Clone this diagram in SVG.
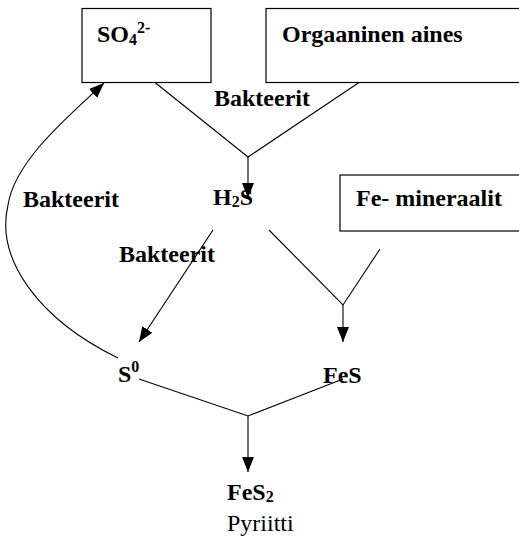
<svg xmlns="http://www.w3.org/2000/svg" width="519" height="536" viewBox="0 0 519 536">
<style>
.box{fill:#fff;stroke:#000;stroke-width:1.2}
.ln{fill:none;stroke:#000;stroke-width:1.1}
.t{font-family:"Liberation Serif","Times New Roman",serif;font-size:24px;font-weight:bold;fill:#000}
.n{font-family:"Liberation Serif","Times New Roman",serif;font-size:24px;fill:#000}
.s{font-size:16px}
</style>
<defs>
<marker id="ah" markerUnits="userSpaceOnUse" markerWidth="16" markerHeight="13" refX="15" refY="6" orient="auto">
<path d="M0,0 L15,6 L0,12 z" fill="#000"/>
</marker>
</defs>
<g id="connectors">
<path class="ln" d="M155,82.5 L248,157 L359,82.5"/>
<path class="ln" d="M248,157 L248,198" marker-end="url(#ah)"/>
<path class="ln" d="M213,230 L139,342" marker-end="url(#ah)"/>
<path class="ln" d="M269,230 L343,305 L380,249"/>
<path class="ln" d="M343,305 L343,342" marker-end="url(#ah)"/>
<path class="ln" d="M139,379 L248,416 L343,379"/>
<path class="ln" d="M248,416 L248,472" marker-end="url(#ah)"/>
<path class="ln" d="M118,358 C40,320 -5,260 8,205 C15,160 70,115 104,83" marker-end="url(#ah)"/>
</g>
<g id="so4">
<rect class="box" x="82" y="8.5" width="129" height="74"/>
<text class="t" x="97" y="42">SO<tspan class="s" dy="3">4</tspan><tspan class="s" dy="-12">2-</tspan></text>
</g>
<g id="orgaaninen">
<rect class="box" x="266" y="8.5" width="260" height="74"/>
<text class="t" x="282" y="42">Orgaaninen aines</text>
</g>
<g id="fe-mineraalit">
<rect class="box" x="340" y="175" width="190" height="56"/>
<text class="t" x="356" y="206">Fe- mineraalit</text>
</g>
<g id="labels">
<text class="t" x="214" y="106">Bakteerit</text>
<text class="t" x="23" y="207">Bakteerit</text>
<text class="t" x="119" y="262">Bakteerit</text>
</g>
<g id="h2s"><text class="t" x="213" y="205">H<tspan class="s" dy="2">2</tspan><tspan dy="-2">S</tspan></text></g>
<g id="s0"><text class="t" x="118" y="382">S<tspan class="s" dy="-10">0</tspan></text></g>
<g id="fes"><text class="t" x="323" y="383">FeS</text></g>
<g id="fes2">
<text class="t" x="227" y="500">FeS<tspan class="s" dy="2">2</tspan></text>
<text class="n" x="227" y="531">Pyriitti</text>
</g>
</svg>
